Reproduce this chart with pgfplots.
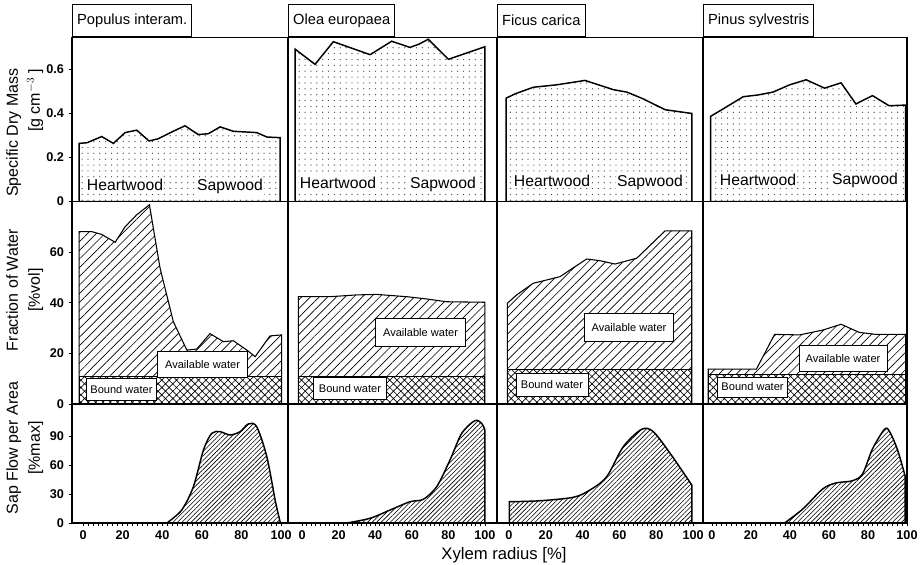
\documentclass[border=0pt]{standalone}
\usepackage{pgfplots}
\pgfplotsset{compat=1.18}
\usepackage{fontspec}
\setmainfont{Liberation Sans}
\usetikzlibrary{patterns.meta}

\newcommand{\tickfont}{\bfseries\fontsize{9.5}{10}\selectfont}
\newcommand{\labfont}{\fontsize{12}{16.5}\selectfont}
\newcommand{\boxfont}{\fontsize{8.3}{9}\selectfont}

\pgfplotsset{
  panel/.style={scale only axis, anchor=south west,
    axis line style={line width=0.9pt},
    xtick=\empty, ytick=\empty, xtick pos=bottom, ytick pos=left,
    tick align=outside, major tick length=2.5pt, minor tick length=2.5pt,
    tick style={black, line width=0.6pt},
    ticklabel style={font=\tickfont},
    /pgf/number format/assume math mode=true},
  toprow/.style={panel, height=123pt, ymin=0, ymax=0.745},
  midrow/.style={panel, height=151.875pt, ymin=0, ymax=80},
  botrow/.style={panel, height=89.25pt, ymin=0, ymax=123,
    xtick={0,20,...,100}, minor x tick num=7},
  colA/.style={width=162pt, xmin=-5.6, xmax=103.5},
  colB/.style={width=156.75pt, xmin=-7.7, xmax=106.6},
  colC/.style={width=154.5pt, xmin=-6.5, xmax=105.4},
  colD/.style={width=153pt, xmin=-4.6, xmax=100},
  dry/.style={draw=black, line width=1.1pt,
    pattern={Dots[distance=4.4pt,radius=0.5pt]}, pattern color=black!70},
  avail/.style={draw=black, line width=0.8pt,
    pattern={Lines[angle=45,distance=4.6pt,line width=0.5pt]}},
  bound/.style={draw=black, line width=0.8pt, fill=white,
    postaction={pattern={Hatch[angle=45,distance=3.9pt,line width=0.5pt]}}},
  flow/.style={draw=black, line width=1.1pt, smooth, tension=0.5,
    pattern={Lines[angle=45,distance=2.4pt,line width=0.45pt]}},
}

\begin{document}
\begin{tikzpicture}
\useasboundingbox (0,0) rectangle (690pt,-423pt);

% ---- top row: specific dry mass
\begin{axis}[toprow, colA, at={(54pt,-151.125pt)}, ytick={0,0.2,0.4,0.6}, yticklabels={0,0.2,0.4,0.6}]
  \addplot[dry] coordinates {(-2,0.264) (2,0.267) (9.4,0.295) (15.3,0.264) (21.2,0.313) (27.1,0.324) (33.3,0.275) (38,0.285) (44.8,0.316) (51.5,0.344) (58.2,0.304) (63.3,0.308) (69.2,0.339) (75.9,0.319) (87.7,0.313) (92.8,0.293) (99.5,0.29)} \closedcycle;
\end{axis}
\begin{axis}[toprow, colB, at={(216pt,-151.125pt)}]
  \addplot[dry] coordinates {(-3.8,0.692) (7.1,0.623) (17.1,0.726) (37.2,0.667) (49,0.728) (59,0.70) (64,0.715) (69,0.737) (80,0.646) (100,0.703)} \closedcycle;
\end{axis}
\begin{axis}[toprow, colC, at={(372.75pt,-151.125pt)}]
  \addplot[dry] coordinates {(-1.6,0.469) (3.3,0.489) (13.2,0.519) (25.9,0.53) (41.3,0.55) (56.7,0.508) (64,0.497) (73,0.466) (84.8,0.417) (99.3,0.40)} \closedcycle;
\end{axis}
\begin{axis}[toprow, colD, at={(527.25pt,-151.125pt)}]
  \addplot[dry] coordinates {(-0.7,0.387) (4.1,0.412) (16,0.476) (23.6,0.484) (31.3,0.497) (39.8,0.53) (48.3,0.553) (57.7,0.515) (66.2,0.539) (73.8,0.443) (82.3,0.481) (90.8,0.435) (99.3,0.438)} \closedcycle;
\end{axis}

% ---- middle row: fraction of water
\begin{axis}[midrow, colA, at={(54pt,-303pt)}, ytick={0,20,40,60}]
  \addplot[avail] coordinates {(-2,68.1) (4.4,68.1) (9.4,67) (16.2,63.9) (21.2,70) (27,74.7) (33.5,78.7) (38.9,53.6) (45.6,32.5) (52.4,21.3) (57.4,21.7) (64.1,27.8) (70.9,24.6) (75.9,25) (82.7,21.3) (86.9,18.7) (94.4,26.9) (100.3,27.3)} \closedcycle;
  \addplot[bound] coordinates {(-2,10.8) (100.3,10.8)} \closedcycle;
\end{axis}
\begin{axis}[midrow, colB, at={(216pt,-303pt)}]
  \addplot[avail] coordinates {(-2,42.4) (15.3,42.4) (29.9,43.1) (40.8,43.3) (57.2,42.4) (68.1,41.5) (79,40.4) (100,40.2)} \closedcycle;
  \addplot[bound] coordinates {(-2,10.8) (100,10.8)} \closedcycle;
\end{axis}
\begin{axis}[midrow, colC, at={(372.75pt,-303pt)}]
  \addplot[avail] coordinates {(-0.9,39.8) (4.2,43.1) (13.2,47.7) (27.7,50.3) (42.2,57.3) (49.5,56.6) (57.6,55.3) (69.4,57.6) (84.8,68.4) (99.3,68.4)} \closedcycle;
  \addplot[bound] coordinates {(-0.9,13.8) (99.3,13.8)} \closedcycle;
\end{axis}
\begin{axis}[midrow, colD, at={(527.25pt,-303pt)}]
  \addplot[avail] coordinates {(-1.9,13.8) (22.8,13.8) (32.1,27.5) (44.9,27.3) (56.8,29.2) (66.2,31.5) (75.5,28.3) (84,27.5) (99.3,27.5)} \closedcycle;
  \addplot[bound] coordinates {(-1.9,11.5) (99.3,11.5)} \closedcycle;
\end{axis}

% ---- bottom row: sap flow
\begin{axis}[botrow, colA, at={(54pt,-392.25pt)}, ytick={0,30,60,90}]
  \addplot[flow] coordinates {(42.3,0) (49.8,13.4) (55.7,37.5) (60.8,75.5) (65,92.7) (69.2,94.4) (74.2,91) (79.3,94.4) (83.5,102.4) (87.7,99.6) (92.8,68.6) (97,23.8) (99.5,1.3)} \closedcycle;
\end{axis}
\begin{axis}[botrow, colB, at={(216pt,-392.25pt)}]
  \addplot[flow] coordinates {(24.4,0) (37.2,4.9) (48.1,13.4) (59,22) (66.3,24.5) (73.6,37.5) (80.9,65.1) (87.3,92.7) (94.5,105.8) (98.2,103) (100,96)} \closedcycle;
\end{axis}
\begin{axis}[botrow, colC, at={(372.75pt,-392.25pt)}]
  \addplot[flow] coordinates {(0.2,22) (16.8,23) (35,26.6) (44,34.1) (53.1,47.9) (62.1,78.9) (72.1,96.9) (78.4,94.4) (87.5,72.1) (99.3,39.3)} \closedcycle;
\end{axis}
\begin{axis}[botrow, colD, at={(527.25pt,-392.25pt)}]
  \addplot[flow] coordinates {(37.2,0) (46.6,14.5) (56.8,35.2) (63.6,41.4) (72.1,43.7) (77.2,50.7) (82.3,76.5) (88.3,96.5) (90.8,95.4) (95,76.5) (99,48.9)} \closedcycle;
\end{axis}

% species boxes
\begin{scope}[every node/.style={draw, line width=0.8pt, anchor=south west, minimum height=24.4pt,
    inner xsep=3.5pt, font=\fontsize{11}{13}\selectfont}]
  \node at (54pt,-28.125pt) {Populus interam.};
  \node at (216pt,-28.125pt) {Olea europaea};
  \node at (372.75pt,-28.125pt) {Ficus carica};
  \node at (527.25pt,-28.125pt) {Pinus sylvestris};
\end{scope}

% heartwood / sapwood
\begin{scope}[every node/.style={anchor=base, fill=white, inner sep=1pt, font=\fontsize{11.8}{13}\selectfont}]
  \node at (93.75pt,-143pt) {Heartwood};
  \node at (172.5pt,-143pt) {Sapwood};
  \node at (253.5pt,-141.25pt) {Heartwood};
  \node at (332.25pt,-141.25pt) {Sapwood};
  \node at (414pt,-140pt) {Heartwood};
  \node at (487.5pt,-140pt) {Sapwood};
  \node at (568.5pt,-138.75pt) {Heartwood};
  \node at (648.75pt,-138pt) {Sapwood};
\end{scope}

% water boxes
\begin{scope}[every node/.style={draw, fill=white, line width=0.7pt, font=\boxfont, inner sep=2pt}]
  \node[minimum width=68pt, minimum height=19pt] at (151.9pt,-273.4pt) {Available water};
  \node[minimum width=53pt, minimum height=16pt] at (91.1pt,-292.1pt) {Bound water};
  \node[minimum width=67pt, minimum height=21pt] at (315.4pt,-249.4pt) {Available water};
  \node[minimum width=55pt, minimum height=16pt] at (262.5pt,-291.4pt) {Bound water};
  \node[minimum width=67pt, minimum height=21pt] at (471.75pt,-245.6pt) {Available water};
  \node[minimum width=54pt, minimum height=17pt] at (414pt,-288.75pt) {Bound water};
  \node[minimum width=66pt, minimum height=20pt] at (632.25pt,-268.9pt) {Available water};
  \node[minimum width=53pt, minimum height=15pt] at (564.4pt,-290.25pt) {Bound water};
\end{scope}

% axis titles
\node[rotate=90, anchor=east, align=right, font=\labfont] at (18.5pt,-48pt) {Specific Dry Mass\\{}[g cm$^{-3}$ ]};
\node[rotate=90, align=center, font=\labfont] at (18.5pt,-217.5pt) {Fraction of Water\\{}[\%vol]};
\node[rotate=90, align=center, font=\labfont] at (18.5pt,-336pt) {Sap Flow per Area\\{}[\%max]};
\node[anchor=base, font=\fontsize{12.5}{14}\selectfont] at (378pt,-419.5pt) {Xylem radius [\%]};
\end{tikzpicture}
\end{document}
